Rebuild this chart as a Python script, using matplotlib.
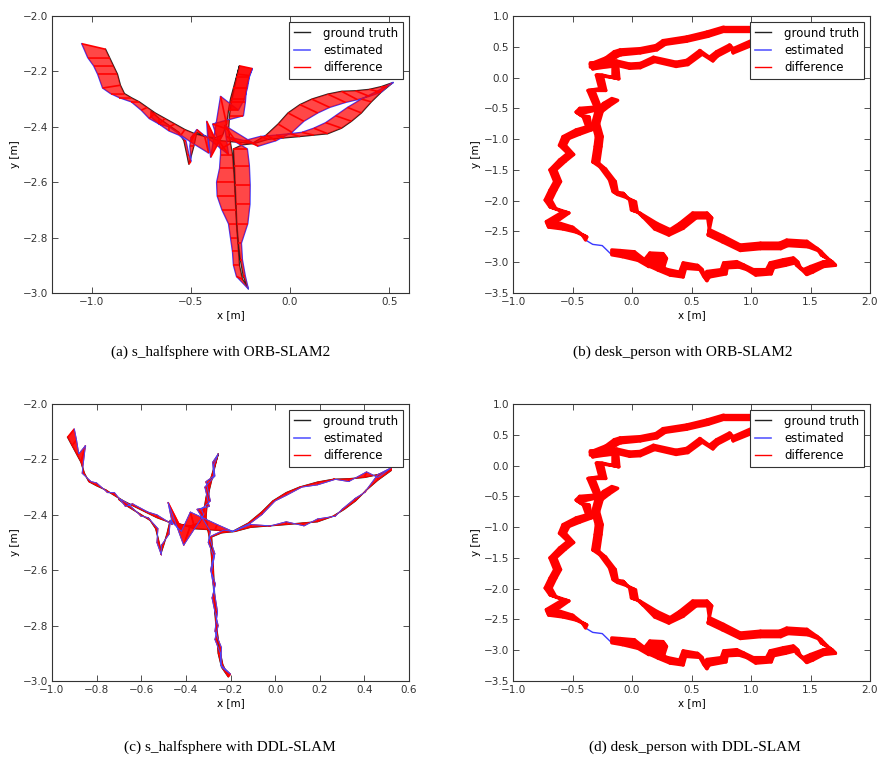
import numpy as np
import matplotlib
matplotlib.use('Agg')
import matplotlib.pyplot as plt
from matplotlib.collections import LineCollection, PolyCollection
from matplotlib.lines import Line2D

# ---- s_halfsphere: ground truth path (x, y) [m] ----
hs_gt = [(-0.93, -2.12), (-0.91, -2.15), (-0.89, -2.18), (-0.87, -2.21), (-0.855, -2.25),
         (-0.835, -2.28), (-0.80, -2.295), (-0.76, -2.31), (-0.72, -2.33), (-0.68, -2.35),
         (-0.63, -2.37), (-0.58, -2.39), (-0.53, -2.41), (-0.48, -2.425), (-0.43, -2.435),
         (-0.38, -2.44), (-0.34, -2.43), (-0.32, -2.39), (-0.31, -2.34), (-0.30, -2.30),
         (-0.285, -2.26), (-0.27, -2.22), (-0.255, -2.18), (-0.265, -2.21), (-0.28, -2.26),
         (-0.295, -2.31), (-0.305, -2.36), (-0.31, -2.41), (-0.30, -2.46), (-0.29, -2.50),
         (-0.285, -2.55), (-0.28, -2.60), (-0.277, -2.65), (-0.273, -2.70), (-0.27, -2.75),
         (-0.265, -2.80), (-0.26, -2.85), (-0.255, -2.90), (-0.24, -2.95), (-0.21, -2.985),
         (-0.235, -2.94), (-0.25, -2.88), (-0.26, -2.82), (-0.268, -2.75), (-0.272, -2.68),
         (-0.276, -2.61), (-0.28, -2.54), (-0.285, -2.48), (-0.24, -2.465), (-0.18, -2.46),
         (-0.11, -2.445), (-0.03, -2.44), (0.05, -2.435), (0.12, -2.43), (0.19, -2.425),
         (0.26, -2.405), (0.31, -2.38), (0.36, -2.35), (0.41, -2.31), (0.46, -2.275),
         (0.52, -2.24), (0.46, -2.255), (0.40, -2.265), (0.33, -2.27), (0.26, -2.272),
         (0.19, -2.282), (0.11, -2.30), (0.05, -2.32), (-0.01, -2.35), (-0.06, -2.39),
         (-0.12, -2.43), (-0.19, -2.46), (-0.27, -2.455), (-0.36, -2.45), (-0.44, -2.43),
         (-0.47, -2.42), (-0.485, -2.47), (-0.50, -2.51), (-0.51, -2.535), (-0.52, -2.50),
         (-0.535, -2.45), (-0.56, -2.42), (-0.61, -2.395), (-0.66, -2.37), (-0.70, -2.345)]

# estimate minus ground truth, ORB-SLAM2
hs_orb_off = [(-0.12, 0.02), (-0.11, 0.0), (-0.10, 0.0), (-0.10, 0.0), (-0.09, -0.01),
              (-0.07, 0.0), (-0.06, 0.0), (-0.04, 0.0), (-0.03, -0.01), (-0.03, -0.02),
              (-0.03, -0.02), (-0.03, -0.01), (-0.02, -0.02), (-0.02, -0.03), (0.02, -0.06),
              (-0.04, 0.06), (-0.06, -0.08), (-0.03, 0.10), (0.05, 0.0), (0.07, 0.0),
              (0.07, 0.0), (0.065, 0.0), (0.065, -0.01), (0.06, -0.005), (0.06, 0.0),
              (0.07, 0.0), (0.07, 0.0), (-0.08, 0.02), (-0.05, -0.02), (-0.06, 0.0),
              (-0.07, 0.0), (-0.09, 0.0), (-0.09, 0.0), (-0.07, 0.0), (-0.04, 0.0),
              (-0.035, 0.0), (-0.03, 0.0), (-0.03, 0.0), (-0.03, 0.01), (0.0, 0.0),
              (0.01, 0.0), (0.01, 0.0), (0.015, 0.0), (0.055, 0.0), (0.07, 0.0),
              (0.075, 0.0), (0.075, 0.0), (0.07, 0.0), (-0.08, 0.03), (-0.05, 0.01),
              (-0.04, 0.01), (-0.04, 0.01), (-0.05, 0.01), (-0.06, 0.01), (-0.07, 0.02),
              (-0.08, 0.02), (-0.08, 0.02), (-0.07, 0.02), (-0.05, 0.01), (-0.03, 0.0),
              (0.0, 0.0), (0.03, 0.0), (0.06, -0.01), (0.07, -0.02), (0.08, -0.03),
              (0.09, -0.03), (0.09, -0.03), (0.09, -0.03), (0.08, -0.03), (0.07, -0.03),
              (0.05, -0.02), (0.03, -0.01), (-0.06, 0.06), (0.05, -0.05), (-0.03, 0.02),
              (-0.03, -0.02), (-0.02, 0.0), (0.0, 0.0), (0.01, 0.01), (0.01, 0.0),
              (0.01, 0.0), (0.0, -0.01), (0.0, -0.02), (0.0, -0.02), (0.0, -0.02)]

# estimate minus ground truth, DDL-SLAM
hs_ddl_off = [(0.03, 0.03), (0.02, 0.02), (0.01, 0.0), (0.02, 0.06), (-0.01, 0.0),
              (0.01, 0.0), (0.0, 0.01), (0.01, -0.01), (0.0, 0.01), (0.01, -0.02),
              (-0.01, 0.01), (0.01, 0.0), (0.0, 0.01), (0.02, -0.01), (-0.05, 0.08),
              (-0.03, -0.07), (0.02, 0.03), (-0.01, 0.01), (0.02, -0.01), (-0.01, 0.02),
              (0.01, 0.0), (-0.01, 0.01), (0.0, 0.0), (-0.01, -0.01), (0.01, 0.0),
              (-0.02, 0.01), (0.01, -0.01), (-0.04, 0.03), (0.01, 0.0), (-0.01, 0.0),
              (0.01, 0.0), (-0.01, 0.0), (0.01, 0.0), (-0.01, 0.0), (0.0, 0.0),
              (0.01, 0.0), (-0.01, 0.0), (0.01, 0.0), (0.0, 0.0), (0.01, 0.01),
              (-0.01, 0.0), (0.01, 0.0), (-0.01, 0.0), (0.01, 0.0), (0.0, 0.0),
              (-0.01, 0.0), (0.01, 0.0), (-0.01, 0.0), (0.01, 0.01), (-0.01, 0.0),
              (0.0, 0.01), (0.01, 0.0), (0.0, 0.01), (0.01, -0.01), (0.0, 0.01),
              (0.01, 0.0), (-0.01, 0.0), (0.0, 0.01), (-0.01, -0.01), (0.0, 0.02),
              (0.0, 0.01), (0.0, -0.01), (0.01, 0.02), (0.0, -0.01), (0.01, 0.0),
              (0.0, -0.01), (0.01, 0.0), (0.0, -0.01), (0.01, 0.0), (0.0, -0.01),
              (0.01, 0.0), (0.0, 0.0), (0.01, 0.02), (-0.02, 0.06), (0.02, -0.03),
              (0.0, 0.0), (0.01, 0.0), (-0.01, 0.0), (0.0, -0.01), (-0.01, 0.0),
              (0.01, 0.0), (-0.01, 0.01), (0.01, -0.01), (0.0, 0.01), (0.01, 0.0)]

# ---- desk_person: ground truth path (x, y) [m] ----
desk_gt = [(-0.17, -0.34), (-0.24, -0.42), (-0.30, -0.53), (-0.33, -0.75), (-0.30, -0.96),
           (-0.31, -1.12), (-0.33, -1.37), (-0.27, -1.45), (-0.19, -1.66), (-0.16, -1.85),
           (-0.075, -1.88), (-0.02, -1.99), (-0.005, -2.15), (0.065, -2.20), (0.21, -2.37),
           (0.32, -2.47), (0.40, -2.37), (0.51, -2.20), (0.63, -2.20), (0.65, -2.47),
           (0.77, -2.58), (0.91, -2.72), (1.08, -2.69), (1.24, -2.69), (1.30, -2.64),
           (1.47, -2.66), (1.55, -2.77), (1.59, -2.88), (1.68, -2.99), (1.61, -2.99),
           (1.50, -3.07), (1.44, -3.12), (1.38, -3.04), (1.355, -2.93), (1.27, -2.96),
           (1.16, -3.01), (1.13, -3.12), (1.02, -3.12), (0.935, -3.04), (0.88, -2.99),
           (0.77, -3.01), (0.75, -3.12), (0.63, -3.15), (0.60, -3.22), (0.55, -3.05),
           (0.43, -3.01), (0.40, -3.16), (0.30, -3.12), (0.20, -3.04), (0.10, -2.97),
           (0.15, -2.85), (0.26, -2.86), (0.24, -2.98), (0.12, -2.98), (0.02, -2.83),
           (-0.10, -2.81), (-0.17, -2.80), (-0.25, -2.79), (-0.33, -2.74), (-0.39, -2.64),
           (-0.42, -2.55), (-0.50, -2.43), (-0.60, -2.37), (-0.72, -2.34), (-0.58, -2.18),
           (-0.69, -2.10), (-0.73, -1.99), (-0.69, -1.83), (-0.65, -1.69), (-0.69, -1.50),
           (-0.61, -1.34), (-0.54, -1.23), (-0.61, -1.10), (-0.58, -0.96), (-0.47, -0.85),
           (-0.38, -0.80), (-0.41, -0.64), (-0.47, -0.56), (-0.44, -0.50), (-0.31, -0.48),
           (-0.37, -0.21), (-0.27, -0.18), (-0.30, 0.04), (-0.16, 0.0), (-0.16, 0.24),
           (-0.35, 0.22), (-0.22, 0.32), (-0.15, 0.42), (-0.10, 0.45), (0.07, 0.47),
           (0.20, 0.52), (0.26, 0.60), (0.46, 0.66), (0.63, 0.74), (0.77, 0.82),
           (1.10, 0.82), (1.05, 0.64), (0.85, 0.47), (0.82, 0.53), (0.71, 0.42),
           (0.65, 0.33), (0.57, 0.44), (0.46, 0.28), (0.37, 0.25), (0.18, 0.33),
           (0.07, 0.23), (-0.02, 0.22), (-0.13, 0.27), (-0.19, 0.25), (-0.35, 0.24)]
desk_gt_missing = [57, 58]  # no ground truth there, estimate only

# estimate minus ground truth (same in both desk_person runs)
desk_off = [(0.05, -0.03), (0.05, -0.04), (0.05, -0.02), (0.05, 0.0), (0.05, 0.0),
            (0.05, 0.0), (0.05, -0.02), (0.05, -0.04), (0.05, -0.03), (0.04, -0.05),
            (0.03, -0.07), (0.05, -0.03), (0.05, -0.03), (0.03, -0.07), (-0.02, -0.09),
            (-0.01, -0.09), (0.03, -0.08), (0.03, -0.08), (0.04, -0.08), (-0.01, -0.09),
            (-0.01, -0.09), (0.0, -0.09), (0.0, -0.09), (0.01, -0.09), (0.01, -0.09),
            (0.01, -0.09), (0.04, -0.06), (0.05, -0.05), (0.03, -0.06), (0.0, -0.08),
            (0.02, -0.09), (0.03, -0.08), (0.04, -0.07), (0.04, -0.07), (0.02, -0.09),
            (0.03, -0.08), (0.04, -0.07), (0.02, -0.09), (0.03, -0.08), (0.02, -0.09),
            (0.03, -0.08), (0.04, -0.07), (0.02, -0.09), (0.03, -0.08), (0.04, -0.07),
            (0.02, -0.09), (0.03, -0.08), (0.02, -0.09), (0.02, -0.09), (0.03, -0.08),
            (0.02, -0.09), (0.03, -0.08), (0.03, -0.08), (0.02, -0.09), (0.03, -0.14),
            (0.02, -0.10), (0.0, -0.08), (0.0, 0.06), (0.0, 0.03), (0.0, 0.0),
            (0.04, -0.04), (0.03, -0.08), (0.02, -0.09), (0.02, -0.09), (0.05, -0.02),
            (0.05, -0.03), (0.05, 0.0), (0.05, 0.0), (0.05, 0.0), (0.05, 0.0),
            (0.05, -0.02), (0.05, -0.02), (0.05, 0.0), (0.05, -0.03), (0.03, -0.07),
            (0.04, -0.05), (0.05, 0.0), (0.04, -0.05), (0.02, -0.08), (0.05, -0.03),
            (0.05, 0.0), (0.05, -0.03), (0.05, 0.0), (0.05, -0.02), (0.04, -0.04),
            (0.02, -0.08), (0.03, -0.07), (0.03, -0.07), (0.01, -0.08), (0.0, -0.07),
            (0.01, -0.07), (0.02, -0.06), (0.0, -0.07), (0.01, -0.07), (0.0, -0.07),
            (0.0, -0.07), (0.03, -0.06), (0.0, -0.07), (0.02, -0.06), (0.01, -0.07),
            (0.03, -0.06), (0.02, -0.06), (0.01, -0.07), (0.0, -0.07), (0.01, -0.07),
            (0.0, -0.07), (0.0, -0.07), (0.0, -0.07), (0.01, -0.07), (0.0, -0.07)]

captions = ['(a) s_halfsphere with ORB-SLAM2', '(b) desk_person with ORB-SLAM2',
            '(c) s_halfsphere with DDL-SLAM', '(d) desk_person with DDL-SLAM']

plt.rcParams['font.family'] = 'DejaVu Sans'
plt.rcParams['font.size'] = 7.5
plt.rcParams['xtick.direction'] = 'in'
plt.rcParams['ytick.direction'] = 'in'
plt.rcParams['xtick.top'] = True
plt.rcParams['ytick.right'] = True
plt.rcParams['xtick.major.size'] = 4
plt.rcParams['ytick.major.size'] = 4
plt.rcParams['xtick.major.width'] = 0.6
plt.rcParams['ytick.major.width'] = 0.6


def draw_traj(ax, gt, off, missing, xlim, ylim, xticks, yticks, band_alpha, band_edge,
              est_on_top=False):
    gt = np.array(gt, dtype=float)
    est = gt + np.array(off, dtype=float)
    gt_plot = gt.copy()
    gt_plot[missing] = np.nan
    ax.plot(gt_plot[:, 0], gt_plot[:, 1], '-', color='#222222', lw=1, zorder=2)
    if est_on_top:
        ax.plot(est[:, 0], est[:, 1], '-', color='#4646ff', lw=0.7, zorder=4)
    else:
        ax.plot(est[:, 0], est[:, 1], '-', color='#3a3aff', lw=1, zorder=2)

    # difference: one red line per pose pair, the gaps between them filled in
    ok = ~np.isnan(gt_plot[:, 0])
    quads = [[gt[i], gt[i + 1], est[i + 1], est[i]]
             for i in range(len(gt) - 1) if ok[i] and ok[i + 1]]
    ax.add_collection(PolyCollection(quads, facecolor=(1, 0, 0, band_alpha),
                                     edgecolor='red', linewidths=band_edge, zorder=3))
    segs = [[gt[i], est[i]] for i in range(len(gt)) if ok[i]]
    ax.add_collection(LineCollection(segs, colors='red', linewidths=1.2, zorder=3))

    ax.set_xlim(xlim)
    ax.set_ylim(ylim)
    ax.set_xticks(xticks)
    ax.set_yticks(yticks)
    ax.set_xlabel('x [m]', labelpad=2)
    ax.set_ylabel('y [m]', labelpad=2)
    for sp in ax.spines.values():
        sp.set_color('#333333')
        sp.set_linewidth(0.8)
    ax.tick_params(colors='#333333', labelcolor='#333333', pad=3)

    handles = [Line2D([], [], color='#222222', lw=1),
               Line2D([], [], color='#5a5aff', lw=1.2),
               Line2D([], [], color='red', lw=1)]
    leg = ax.legend(handles, ['ground truth', 'estimated', 'difference'],
                    loc='upper right', fontsize=8.5, fancybox=False, framealpha=1,
                    edgecolor='#333333', handlelength=1.4, handletextpad=1.1,
                    borderpad=0.4, labelspacing=0.35, borderaxespad=0.5)
    leg.get_frame().set_linewidth(0.8)
    leg.set_zorder(10)


fig = plt.figure(figsize=(8.77, 7.63), dpi=100)
W, H = 877.0, 763.0
ax_a = fig.add_axes([52 / W, 1 - 293 / H, 357 / W, 277 / H])
ax_b = fig.add_axes([513 / W, 1 - 293 / H, 357 / W, 277 / H])
ax_c = fig.add_axes([52 / W, 1 - 681 / H, 357 / W, 277 / H])
ax_d = fig.add_axes([513 / W, 1 - 681 / H, 357 / W, 277 / H])

hs_yticks = [-3.0, -2.8, -2.6, -2.4, -2.2, -2.0]
desk_xticks = [-1.0, -0.5, 0.0, 0.5, 1.0, 1.5, 2.0]
desk_yticks = [-3.5, -3.0, -2.5, -2.0, -1.5, -1.0, -0.5, 0.0, 0.5, 1.0]

draw_traj(ax_a, hs_gt, hs_orb_off, [], (-1.2, 0.6), (-3.0, -2.0),
          [-1.0, -0.5, 0.0, 0.5], hs_yticks, 0.72, 0.0)
draw_traj(ax_b, desk_gt, desk_off, desk_gt_missing, (-1.0, 2.0), (-3.5, 1.0),
          desk_xticks, desk_yticks, 1.0, 2.4)
draw_traj(ax_c, hs_gt, hs_ddl_off, [], (-1.0, 0.6), (-3.0, -2.0),
          [-1.0, -0.8, -0.6, -0.4, -0.2, 0.0, 0.2, 0.4, 0.6], hs_yticks, 0.9, 0.6,
          est_on_top=True)
draw_traj(ax_d, desk_gt, desk_off, desk_gt_missing, (-1.0, 2.0), (-3.5, 1.0),
          desk_xticks, desk_yticks, 1.0, 2.4)

cap_font = dict(ha='center', va='center', family='Liberation Serif', fontsize=11)
fig.text(221 / W, 1 - 352 / H, captions[0], **cap_font)
fig.text(683 / W, 1 - 352 / H, captions[1], **cap_font)
fig.text(230 / W, 1 - 747 / H, captions[2], **cap_font)
fig.text(695 / W, 1 - 747 / H, captions[3], **cap_font)

fig.savefig('out.png', dpi=100)
